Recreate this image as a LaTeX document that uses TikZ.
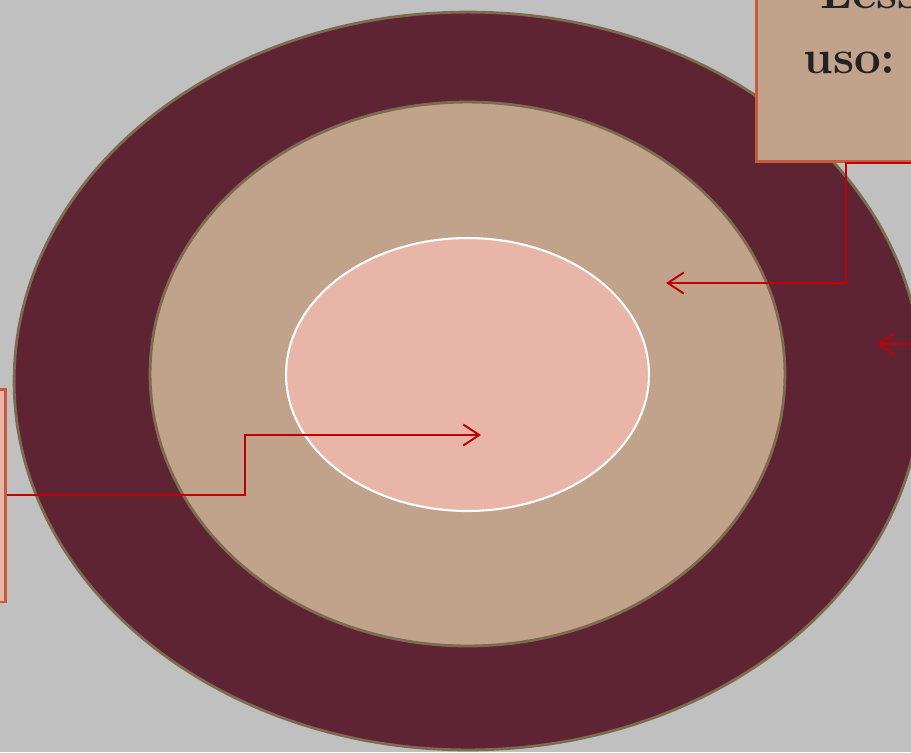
\documentclass[tikz,border=0pt]{standalone}
\usepackage{tikz}
\usetikzlibrary{arrows.meta, positioning, shapes.geometric}
\usepackage{xcolor}

\definecolor{bggray}{HTML}{C0C0C0}
\definecolor{wine}{HTML}{5E2434}
\definecolor{rimbrown}{HTML}{7D6B4F}
\definecolor{sand}{HTML}{C1A28B}
\definecolor{blush}{HTML}{E8B5A8}
\definecolor{boxrim}{HTML}{C65A3C}
\definecolor{linkred}{HTML}{C00000}
\definecolor{inkgray}{HTML}{222222}

\begin{document}
\begin{tikzpicture}[
      x=0.02cm, y=-0.02cm,
      ring/.style={ellipse, draw=rimbrown, line width=1.6pt, inner sep=0pt},
      box/.style={draw=boxrim, line width=1.7pt, inner sep=0pt},
      arr/.style={-{Straight Barb[length=3.2mm, width=4.2mm]}, draw=linkred, line width=1.1pt},
      lbl/.style={font=\fontsize{27}{36}\selectfont\bfseries, text=inkgray, inner sep=0pt}
    ]
    \useasboundingbox (0,0) rectangle (911,752);
    \fill[bggray] (0,0) rectangle (911,752);
    \clip (0,0) rectangle (911,752);

    \node[ring, fill=wine, minimum width=18.16cm, minimum height=14.76cm] (outer) at (468,381) {};
    \node[ring, fill=sand, minimum width=12.7cm, minimum height=10.88cm] (middle) at (467.5,374) {};
    \node[ring, fill=blush, draw=white, line width=1.2pt, minimum width=7.26cm, minimum height=5.46cm] (core) at (467.5,374.5) {};

    \node[box, fill=sand, anchor=south west, minimum width=6cm, minimum height=4cm] (lexbox) at (755,163) {};
    \node[lbl, anchor=base west] (lexa) at (820,8) {Less};
    \node[lbl, anchor=base west] (lexb) at (803,73) {uso:};

    \node[box, fill=blush, anchor=east, minimum width=2cm, minimum height=4.26cm] (sidebox) at (7,495.5) {};

    \coordinate (topin) at (960,163);
    \coordinate (topbend) at (846,163);
    \coordinate (midtip) at (666,283);
    \coordinate (rightin) at (960,344);
    \coordinate (righttip) at (877,344);
    \coordinate (coretip) at (481,435);

    \draw[arr] (topin) -- (topbend) |- (midtip);
    \draw[arr] (rightin) -- (righttip);
    \draw[arr] (sidebox.east |- 0,495) -- (245,495) |- (coretip);
  \end{tikzpicture}
\end{document}
